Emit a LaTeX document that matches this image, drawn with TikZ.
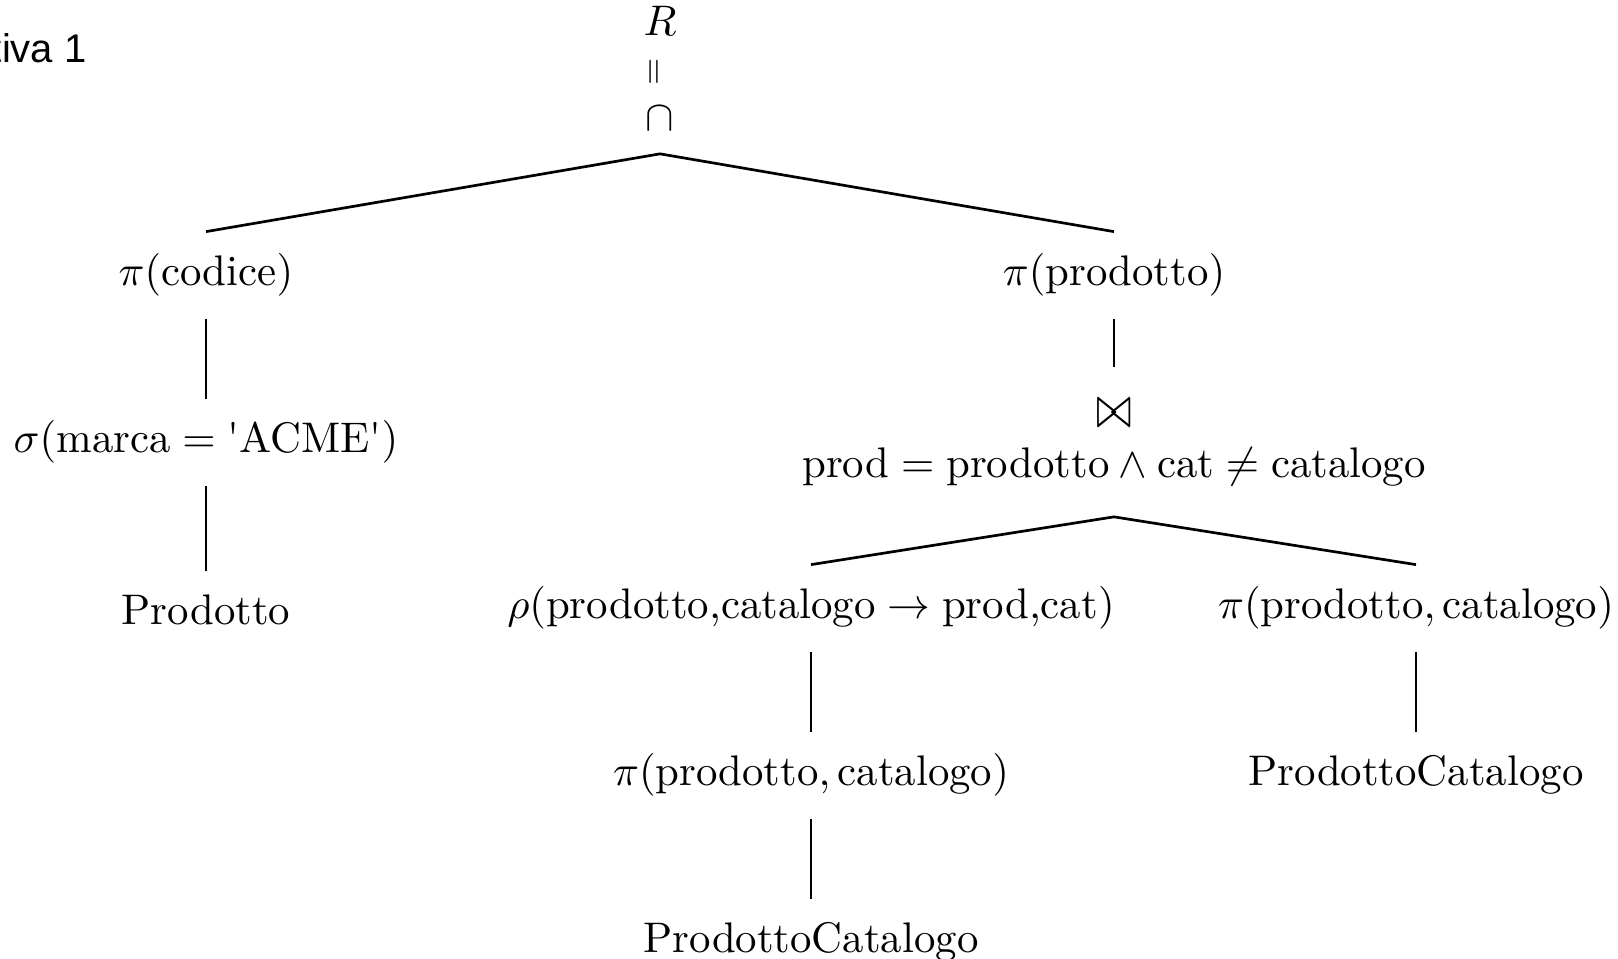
\documentclass[tikz,border=0pt]{standalone}
\usepackage{fontspec}
\usepackage{amsmath}
\newfontfamily\notefont{Liberation Sans}

% all tree text is set at 10pt and scaled, so the 10pt design is used
\tikzset{
  treenode/.style={anchor=base, scale=2.14, inner xsep=0pt, inner ysep=5.26pt,
    text height=7.01pt, text depth=2.57pt,
    font=\fontsize{10pt}{12pt}\selectfont},
  symnode/.style={inner sep=0pt, scale=2.14, font=\fontsize{10pt}{12pt}\selectfont},
  branch/.style={line width=1.35pt},
}

\begin{document}
\begin{tikzpicture}[x=0.5pt, y=-0.5pt]
\useasboundingbox (0,0) rectangle (1618,959);

% heading fragment
\node[anchor=base east, inner sep=0pt, font=\notefont\fontsize{20pt}{24pt}\selectfont]
  (lbl) at (87,62) {tiva 1};

% root: R = intersection
\node[symnode, anchor=base] (res) at (660,35) {$R$};
\node[symnode, rotate=90, scale=0.82] (eq) at (656,72) {$=$};
\node[symnode, anchor=base, inner ysep=5.37pt, text depth=0pt] (cap) at (660,130) {$\cap$};

% left branch
\node[treenode] (pc)  at (206,285) {$\pi(\text{codice})$};
\node[treenode] (sel) at (206,452) {$\sigma(\text{marca} = \text{\textquotesingle ACME\textquotesingle})$};
\node[treenode] (prl) at (206,624) {Prodotto};

% right branch
\node[treenode] (pp)   at (1114,285) {$\pi(\text{prodotto})$};
\node[treenode, inner ysep=6.78pt] (join) at (1114,427)
  {\scalebox{1}[1.4]{$\bowtie$}};
\node[treenode, inner ysep=6.54pt] (jc) at (1114,477)
  {$\text{prod} = \text{prodotto} \land \text{cat} \neq \text{catalogo}$};

\node[treenode] (rho) at (811,618)
  {$\rho(\text{prodotto,catalogo} \rightarrow \text{prod,cat})$};
\node[treenode] (rpi) at (1416,618) {$\pi(\text{prodotto}, \text{catalogo})$};
\node[treenode] (mpi) at (811,785) {$\pi(\text{prodotto}, \text{catalogo})$};
\node[treenode] (pc1) at (1416,785) {ProdottoCatalogo};
\node[treenode] (pc2) at (811,952) {ProdottoCatalogo};

% connectors
\draw[branch] (pc.north) -- (cap.south) -- (pp.north);
\draw[branch] (pc.south) -- (sel.north);
\draw[branch] (sel.south) -- (prl.north);
\draw[branch] (pp.south) -- (join.north);
\draw[branch] (rho.north) -- (jc.south) -- (rpi.north);
\draw[branch] (rho.south) -- (mpi.north);
\draw[branch] (mpi.south) -- (pc2.north);
\draw[branch] (rpi.south) -- (pc1.north);
\end{tikzpicture}
\end{document}
